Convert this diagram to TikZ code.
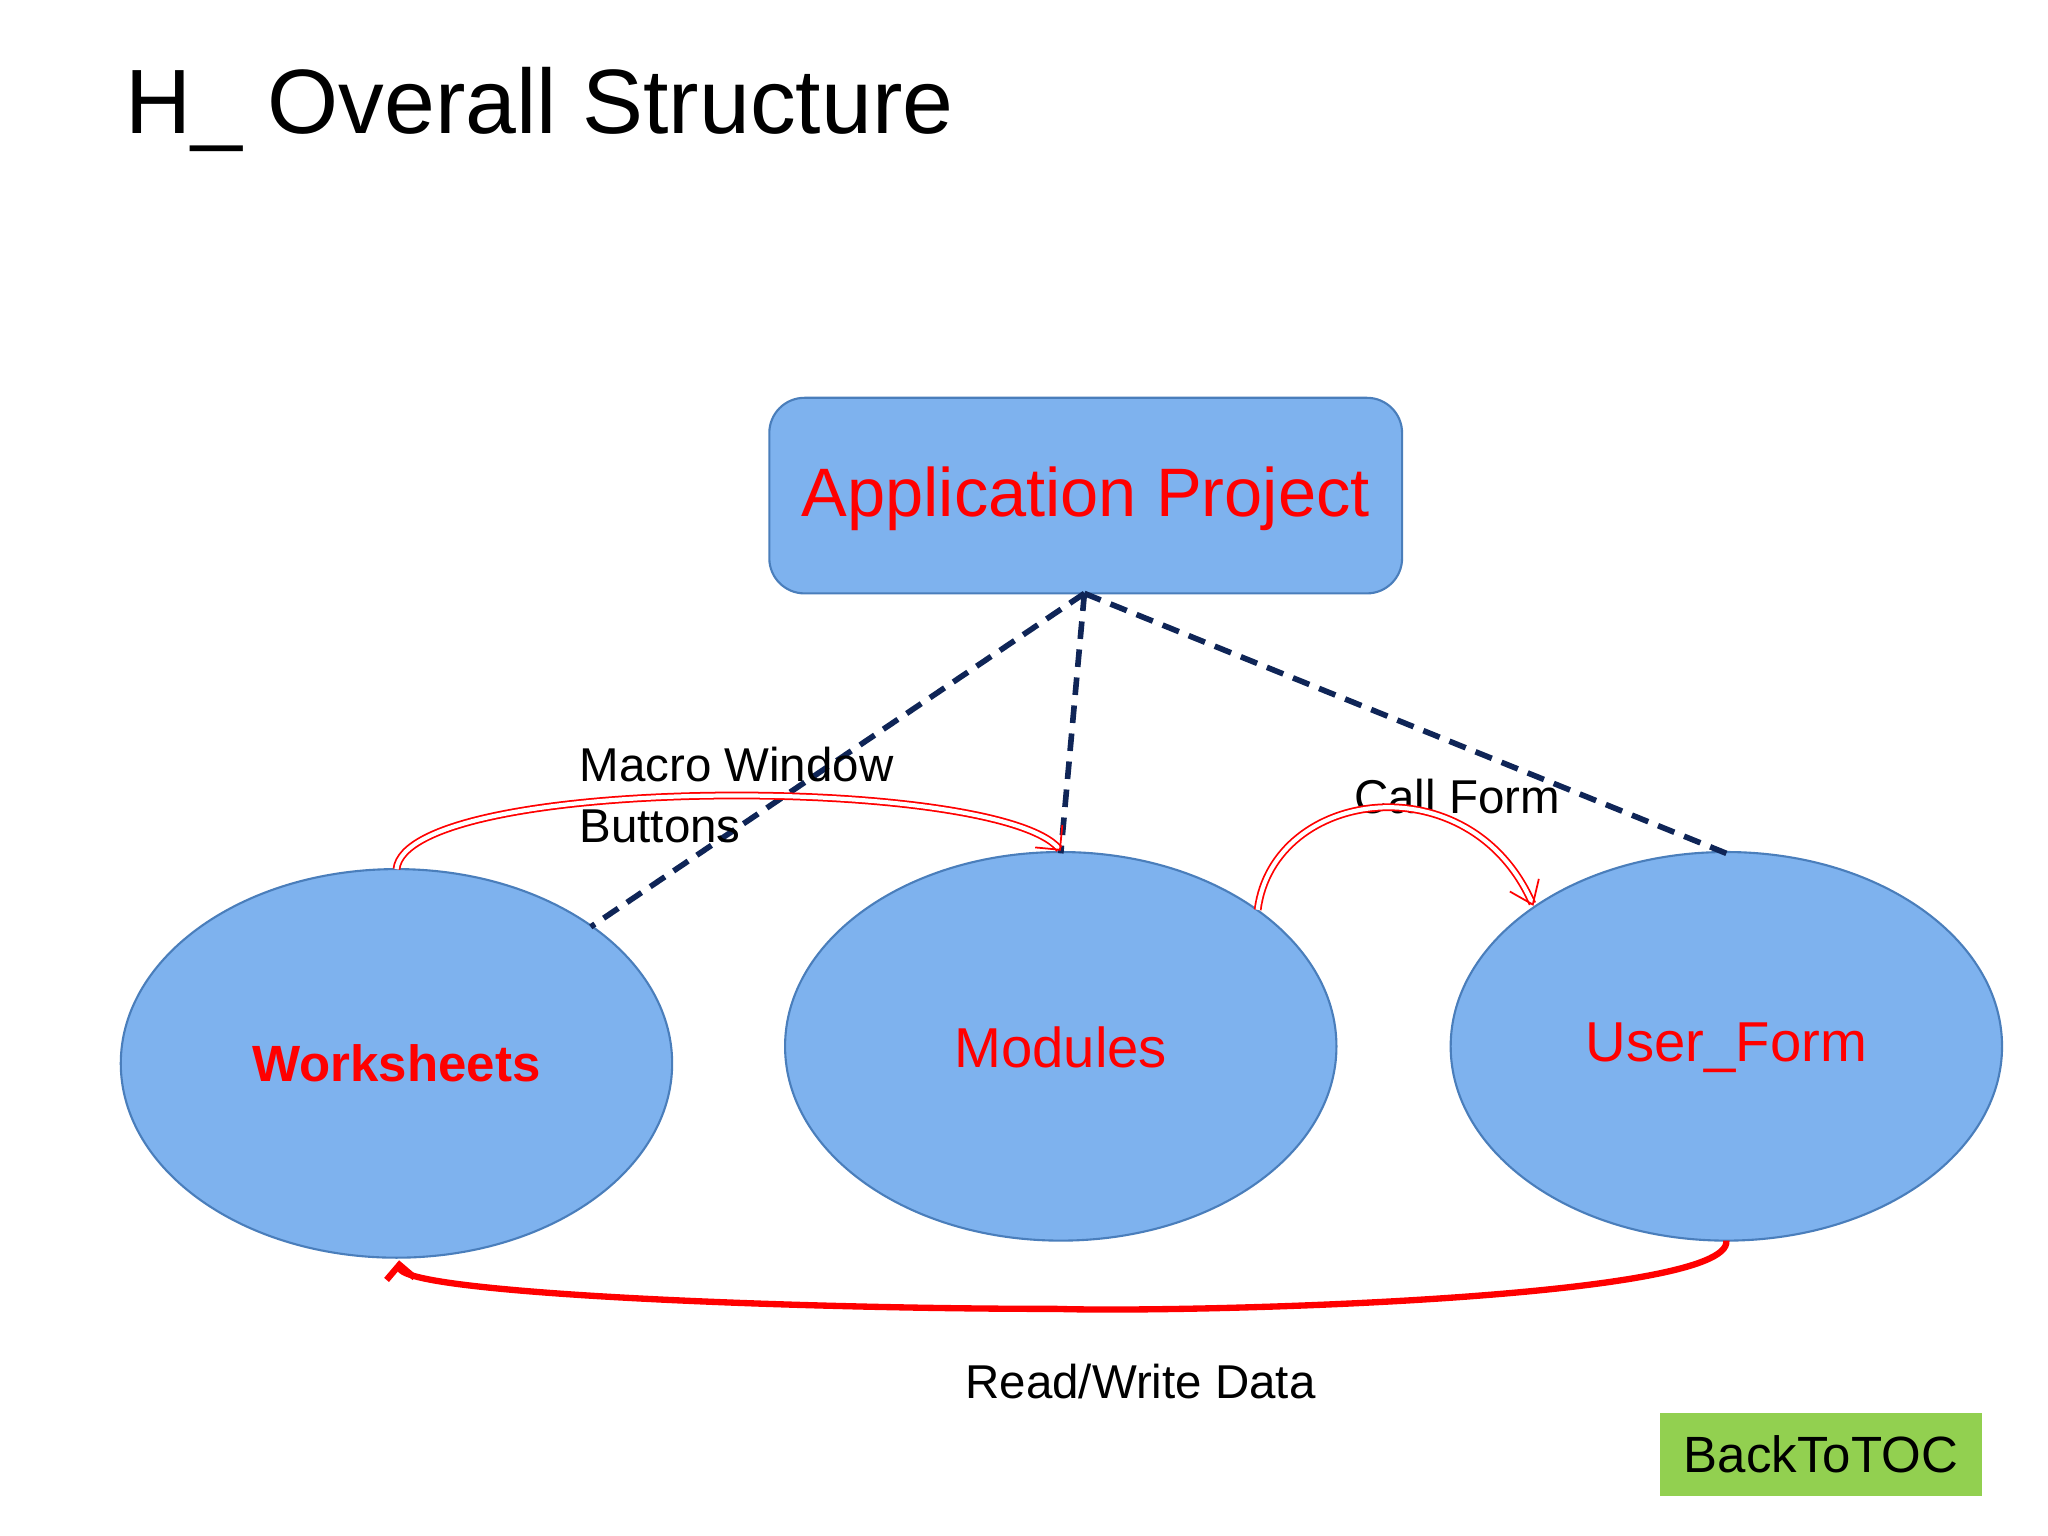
\documentclass[tikz,border=0pt]{standalone}
\usepackage{fontspec}
\setmainfont{Liberation Sans}
\usetikzlibrary{arrows.meta}
\definecolor{boxblue}{HTML}{7EB2EE}
\definecolor{edgeblue}{HTML}{4A7EBB}
\definecolor{navy}{HTML}{0F2557}
\definecolor{tocgreen}{HTML}{92D050}
\begin{document}
\begin{tikzpicture}[x=0.013128cm,y=-0.013128cm,
  shp/.style={draw=edgeblue,fill=boxblue,line width=0.6pt},
  dashline/.style={navy,line width=1.6pt,dash pattern=on 5pt off 3pt},
  lab/.style={font=\fontsize{13.5}{16}\selectfont,align=left}]
\useasboundingbox (0,0) rectangle (1560,1170);
\node[anchor=base west,font=\fontsize{26}{31}\selectfont] (title) at (86,102) {H\_ Overall Structure};
\draw[shp,rounded corners=10pt] (586,303) rectangle (1068,452);
\node[red,font=\fontsize{19.5}{23}\selectfont] (app) at (827,380) {Application Project};
\coordinate (appb) at (826,452);
\draw[shp] (302,810) ellipse [x radius=210,y radius=148];
\draw[shp] (808,797) ellipse [x radius=210,y radius=148];
\draw[shp] (1315,797) ellipse [x radius=210,y radius=148];
\node[red,font=\bfseries\fontsize{14.5}{17}\selectfont] (ws) at (302,810) {Worksheets};
\node[red,font=\fontsize{16}{19}\selectfont] (mod) at (808,798) {Modules};
\node[red,font=\fontsize{16}{19}\selectfont] (uf) at (1315,798) {User\_Form};
\coordinate (wsd) at (450,706);
\coordinate (modt) at (808,650);
\coordinate (uft) at (1315,650);
\draw[dashline] (appb) -- (wsd);
\draw[dashline] (appb) -- (modt);
\draw[dashline] (appb) -- (uft);
\node[lab,anchor=base west] (macro) at (432,595) {Macro Window};
\node[lab,anchor=base west] (btn) at (432,642) {Buttons};
\node[lab,anchor=base west] (call) at (1022,620) {Call Form};
\node[lab,anchor=base west] (rw) at (726,1065) {Read/Write Data};
\coordinate (wst) at (302,662);
\draw[red,double,double distance=1.2pt,line width=0.5pt,-{Straight Barb[length=5pt]}] (wst) .. controls (310,590) and (760,590) .. (808,648);
\coordinate (mr) at (958,693);
\coordinate (ufl) at (1168,690);
\draw[red,double,double distance=1.2pt,line width=0.5pt,-{Straight Barb[length=6pt,width=9pt]}] (mr) .. controls (970,600) and (1120,580) .. (ufl);
\coordinate (ufb) at (1315,945);
\coordinate (wsb) at (304,960);
\draw[red,line width=1.8pt,-{Straight Barb[length=4pt,width=8pt]}] (ufb) .. controls (1320,990) and (900,1000) .. (805,997) .. controls (600,997) and (306,985) .. (wsb);
\node[fill=tocgreen,font=\fontsize{14.5}{17}\selectfont,inner sep=0pt,minimum width=3.22cm,minimum height=0.83cm] (toc) at (1387,1108) {BackToTOC};
\end{tikzpicture}
\end{document}
